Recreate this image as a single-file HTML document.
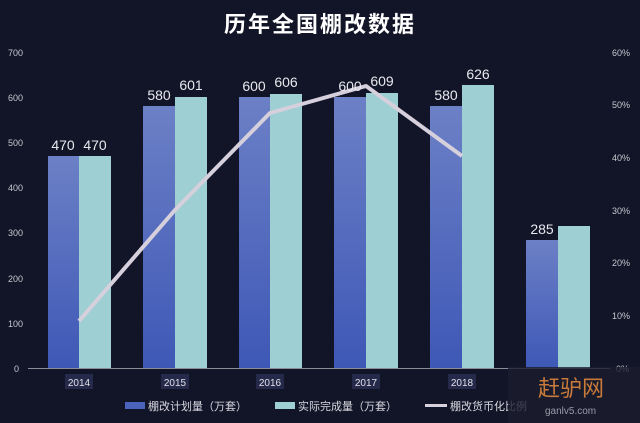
<!DOCTYPE html>
<html><head><meta charset="utf-8"><style>
html,body{margin:0;padding:0;background:#121427;}
svg{display:block;font-family:"Liberation Sans","Noto Sans CJK SC",sans-serif;}
</style></head><body>
<svg width="640" height="423" viewBox="0 0 640 423" xmlns="http://www.w3.org/2000/svg">
<defs>
<linearGradient id="b" x1="0" y1="0" x2="0" y2="1"><stop offset="0" stop-color="#6c80c6"/><stop offset="1" stop-color="#3e58b6"/></linearGradient>
</defs>
<rect width="640" height="423" fill="#121427"/>
<text x="320" y="32" fill="#ffffff" font-size="22" font-weight="bold" text-anchor="middle" letter-spacing="2">历年全国棚改数据</text>
<g fill="#c8c8d0" font-size="9">
<text x="8" y="56">700</text><text x="8" y="101">600</text><text x="8" y="146">500</text><text x="8" y="191">400</text><text x="8" y="236">300</text><text x="8" y="282">200</text><text x="8" y="327">100</text><text x="14" y="372">0</text>
<text x="612" y="56">60%</text><text x="612" y="108">50%</text><text x="612" y="161">40%</text><text x="612" y="214">30%</text><text x="612" y="266">20%</text><text x="612" y="319">10%</text><text x="616" y="372">0%</text>
</g>
<g fill="url(#b)">
<rect x="48" y="156" width="31" height="212"/>
<rect x="143" y="106" width="32" height="262"/>
<rect x="239" y="97" width="31" height="271"/>
<rect x="334" y="97" width="32" height="271"/>
<rect x="430" y="106" width="32" height="262"/>
<rect x="526" y="240" width="32" height="128"/>
</g>
<g fill="#9ecfd3">
<rect x="79" y="156" width="32" height="212"/>
<rect x="175" y="97" width="32" height="271"/>
<rect x="270" y="94" width="32" height="274"/>
<rect x="366" y="93" width="32" height="275"/>
<rect x="462" y="85" width="32" height="283"/>
<rect x="558" y="226" width="32" height="142"/>
</g>
<line x1="28" y1="368.5" x2="610" y2="368.5" stroke="#8a8c98" stroke-width="1"/>
<polyline points="79,321 175,210 270,113 366,86 462,156" fill="none" stroke="#d6cfdc" stroke-width="4" stroke-linejoin="round"/>
<g fill="#e8e8ee" font-size="14" text-anchor="middle">
<text x="63" y="150">470</text><text x="95" y="150">470</text>
<text x="159" y="100">580</text><text x="191" y="90">601</text>
<text x="254" y="91">600</text><text x="286" y="87">606</text>
<text x="350" y="91">600</text><text x="382" y="86">609</text>
<text x="446" y="100">580</text><text x="478" y="79">626</text>
<text x="542" y="234">285</text>
</g>
<g font-size="10" fill="#e0e0e8" text-anchor="middle">
<rect x="65" y="374" width="28" height="15" fill="#262a4a"/><text x="79" y="386">2014</text>
<rect x="161" y="374" width="28" height="15" fill="#262a4a"/><text x="175" y="386">2015</text>
<rect x="256" y="374" width="28" height="15" fill="#262a4a"/><text x="270" y="386">2016</text>
<rect x="352" y="374" width="28" height="15" fill="#262a4a"/><text x="366" y="386">2017</text>
<rect x="448" y="374" width="28" height="15" fill="#262a4a"/><text x="462" y="386">2018</text>
</g>
<g font-size="11" fill="#d8d8e0">
<rect x="125" y="402" width="20" height="7" fill="#4a64bc"/><text x="148" y="410">棚改计划量（万套）</text>
<rect x="275" y="402" width="20" height="7" fill="#9ecfd3"/><text x="298" y="410">实际完成量（万套）</text>
<rect x="425" y="404" width="22" height="3" fill="#d6cfdc"/><text x="450" y="410">棚改货币化比例</text>
</g>
<rect x="508" y="367" width="132" height="56" fill="#1b1d2e" opacity="0.8"/>
<text x="538" y="396" font-size="22" fill="#c87a3a">赶驴网</text>
<text x="545" y="414" font-size="10" fill="#9a9aa8">ganlv5.com</text>
</svg>
</body></html>
